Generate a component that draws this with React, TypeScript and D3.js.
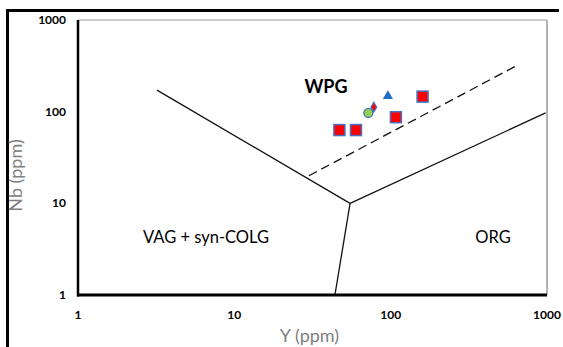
import * as d3 from 'd3';

// Pearce et al. discrimination boundaries (Y, Nb in ppm)
const vagWpgLine: [number, number][] = [[3.2, 172], [55, 10]];
const vagOrgLine: [number, number][] = [[44, 1], [55, 10]];
const orgWpgLine: [number, number][] = [[55, 10], [980, 97]];
const dashedLine: [number, number][] = [[30, 20], [640, 318]];

// samples
const squareY = [47, 60, 108, 160];
const squareNb = [63, 63, 87, 146];
const triangleY = [96];
const triangleNb = [148];
const diamondY = [78];
const diamondNb = [112];
const circleY = [72];
const circleNb = [97];

const xTicks = [1, 10, 100, 1000];
const yTicks = [1, 10, 100, 1000];

export default function App() {
  const margin = { top: 20, right: 16, bottom: 52, left: 78 };
  const W = 563;
  const H = 347;
  const plotW = 547 - margin.left;
  const plotH = 295 - margin.top;

  const x = d3.scaleLog().domain([1, 1000]).range([0, plotW]);
  const y = d3.scaleLog().domain([1, 1000]).range([plotH, 0]);

  const line = d3.line<[number, number]>()
    .x(d => x(d[0]))
    .y(d => y(d[1]));

  const font = 'Lato, "Open Sans", sans-serif';
  const blueEdge = '#4472c4';

  const sqSize = 11;

  return (
    <svg width={W} height={H} style={{ position: 'absolute', left: 0, top: 0 }}>
      <rect width={W} height={H} fill="#fff" />
      {/* outer frame */}
      <line x1={7} y1={10.5} x2={559} y2={10.5} stroke="#000" strokeWidth={3} />
      <line x1={7.5} y1={9} x2={7.5} y2={H} stroke="#000" strokeWidth={3} />

      <g transform={`translate(${margin.left},${margin.top})`}>
        {/* plot border */}
        <line x1={0} y1={0} x2={plotW} y2={0} stroke="#9a9a9a" strokeWidth={1} />
        <line x1={plotW} y1={0} x2={plotW} y2={plotH} stroke="#9a9a9a" strokeWidth={1.5} />

        {/* boundaries */}
        <path d={line(vagWpgLine) ?? ''} fill="none" stroke="#111" strokeWidth={1.3} />
        <path d={line(vagOrgLine) ?? ''} fill="none" stroke="#111" strokeWidth={1.3} />
        <path d={line(orgWpgLine) ?? ''} fill="none" stroke="#111" strokeWidth={1.3} />
        <path d={line(dashedLine) ?? ''} fill="none" stroke="#111" strokeWidth={1.3} strokeDasharray="9,5" />

        {/* axes */}
        <line x1={0} y1={0} x2={0} y2={plotH + 1.5} stroke="#000" strokeWidth={2.5} />
        <line x1={-1} y1={plotH} x2={plotW} y2={plotH} stroke="#000" strokeWidth={3} />

        {xTicks.map(t => (
          <text key={`x${t}`} x={x(t)} y={plotH + 24} textAnchor="middle"
            fontFamily={font} fontWeight="bold" fontSize={12} fill="#000">{t}</text>
        ))}
        {yTicks.map(t => (
          <text key={`y${t}`} x={-12} y={y(t) + 4} textAnchor="end"
            fontFamily={font} fontWeight="bold" fontSize={12} fill="#000">{t}</text>
        ))}

        {/* region labels */}
        <text x={248} y={73} textAnchor="middle" fontFamily={font} fontWeight="bold" fontSize={18} fill="#000">WPG</text>
        <text x={128} y={223} textAnchor="middle" fontFamily={font} fontSize={16.5} fill="#000">VAG + syn-COLG</text>
        <text x={415} y={223} textAnchor="middle" fontFamily={font} fontSize={16.5} fill="#000">ORG</text>

        {/* samples */}
        {squareY.map((v, i) => (
          <rect key={`s${i}`} x={x(v) - sqSize / 2} y={y(squareNb[i]) - sqSize / 2}
            width={sqSize} height={sqSize} fill="#ff0000" stroke={blueEdge} strokeWidth={1.5} />
        ))}
        {triangleY.map((v, i) => (
          <path key={`t${i}`} d={d3.symbol(d3.symbolTriangle, 45)() ?? ''}
            transform={`translate(${x(v)},${y(triangleNb[i])})`} fill="#1f6fc4" />
        ))}
        {circleY.map((v, i) => (
          <circle key={`c${i}`} cx={x(v)} cy={y(circleNb[i])} r={4.5}
            fill="#92d050" stroke={blueEdge} strokeWidth={1.3} />
        ))}
        {diamondY.map((v, i) => (
          <path key={`d${i}`} d={d3.symbol(d3.symbolDiamond, 28)() ?? ''}
            transform={`translate(${x(v)},${y(diamondNb[i])})`}
            fill="#ff0000" stroke={blueEdge} strokeWidth={1.2} />
        ))}

        {/* axis titles */}
        <text x={plotW / 2 - 3} y={plotH + 47} textAnchor="middle" fontFamily={font}
          fontSize={18} fill="#808080">Y (ppm)</text>
        <text transform={`translate(${-56},${plotH / 2 + 18}) rotate(-90)`} textAnchor="middle"
          fontFamily={font} fontSize={18} fill="#808080">Nb (ppm)</text>
      </g>
    </svg>
  );
}
